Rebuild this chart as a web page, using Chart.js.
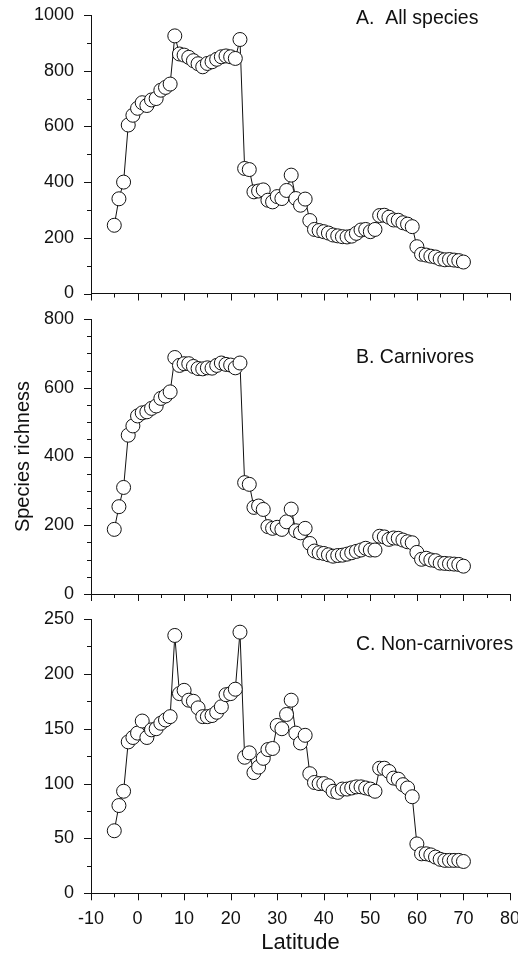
<!DOCTYPE html>
<html>
<head>
<meta charset="utf-8">
<script src="https://cdn.jsdelivr.net/npm/chart.js@4.4.0/dist/chart.umd.min.js"></script>
<style>
html,body{margin:0;padding:0;background:#fff;}
#wrap{position:relative;width:518px;height:954px;overflow:hidden;}
canvas{position:absolute;left:0;}
</style>
</head>
<body>
<div id="wrap">
<canvas id="cA" style="top:0px" width="518" height="305"></canvas>
<canvas id="cB" style="top:305px" width="518" height="300"></canvas>
<canvas id="cC" style="top:605px" width="518" height="349"></canvas>
</div>
<script>
// ---------------- DATA ----------------
const latitudes = [-5,-4,-3,-2,-1,0,1,2,3,4,5,6,7,8,9,10,11,12,13,14,15,16,17,18,19,20,21,22,23,24,25,26,27,28,29,30,31,32,33,34,35,36,37,38,39,40,41,42,43,44,45,46,47,48,49,50,51,52,53,54,55,56,57,58,59,60,61,62,63,64,65,66,67,68,69,70];

const allSpecies = [245,340,400,605,640,
  665,685,675,695,700,730,740,752,925,860,
  856,848,836,825,814,826,832,841,850,853,
  850,844,912,449,445,365,368,372,335,329,
  348,341,370,425,341,317,339,262,230,226,
  222,217,210,207,204,203,206,216,228,230,
  222,230,280,281,274,264,263,254,249,240,
  168,141,138,134,131,124,121,122,120,118,
  113];

const carnivores = [188,254,310,462,489,
  518,527,530,540,547,569,576,588,688,665,
  670,670,662,656,655,658,657,665,672,668,
  666,658,672,324,319,252,256,246,196,191,
  194,188,210,247,184,178,191,147,125,120,
  118,114,110,112,113,116,120,124,128,133,
  128,128,168,166,159,163,162,157,152,149,
  121,101,104,99,97,90,89,88,87,86,
  81];

const nonCarnivores = [57,80,93,138,142,
  146,157,142,149,150,155,158,161,235,182,
  185,176,175,169,161,161,162,165,170,181,
  182,186,238,124,128,110,115,123,131,132,
  153,150,163,176,146,137,144,109,101,100,
  100,98,93,92,95,95,96,97,97,96,
  95,93,114,114,111,105,104,99,96,88,
  45,36,36,35,33,31,30,30,30,30,
  29];

const latitudeTicks = [-10,0,10,20,30,40,50,60,70,80];
const allSpeciesTicks = [0,200,400,600,800,1000];
const carnivoreTicks = [0,200,400,600,800];
const nonCarnivoreTicks = [0,50,100,150,200,250];

const panelTitles = ['A.  All species', 'B. Carnivores', 'C. Non-carnivores'];
const xTitle = 'Latitude';
const yTitle = 'Species richness';

// ---------------- DRAWING ----------------
const FONT = "'Liberation Sans', Arial, Helvetica, sans-serif";
const INK = '#111';

// custom tick marks (major + minor) drawn through the chart's own scales
const tickMarks = {
  id: 'tickMarks',
  afterDraw(chart, args, o) {
    const {ctx} = chart;
    const xs = chart.scales.x, ys = chart.scales.y;
    ctx.save();
    ctx.strokeStyle = INK;
    ctx.lineWidth = 1;
    ctx.beginPath();
    const xt = o.xTicks;
    for (let i = 0; i < xt.length; i++) {
      let px = Math.round(xs.getPixelForValue(xt[i])) + 0.5;
      ctx.moveTo(px, ys.bottom); ctx.lineTo(px, ys.bottom + 7);
      if (i < xt.length - 1) {
        for (let k = 1; k < o.xSub; k++) {
          const v = xt[i] + (xt[i+1] - xt[i]) * k / o.xSub;
          px = Math.round(xs.getPixelForValue(v)) + 0.5;
          ctx.moveTo(px, ys.bottom); ctx.lineTo(px, ys.bottom + 4);
        }
      }
    }
    const yt = o.yTicks;
    for (let i = 0; i < yt.length; i++) {
      let py = Math.round(ys.getPixelForValue(yt[i])) + 0.5;
      ctx.moveTo(xs.left, py); ctx.lineTo(xs.left - 7, py);
      if (i < yt.length - 1) {
        for (let k = 1; k < o.ySub; k++) {
          const v = yt[i] + (yt[i+1] - yt[i]) * k / o.ySub;
          py = Math.round(ys.getPixelForValue(v)) + 0.5;
          ctx.moveTo(xs.left, py); ctx.lineTo(xs.left - 4, py);
        }
      }
    }
    ctx.stroke();
    // panel label
    ctx.fillStyle = INK;
    ctx.font = '19.5px ' + FONT;
    ctx.textBaseline = 'middle';
    ctx.textAlign = 'left';
    ctx.fillText(o.label, chart.chartArea.left + o.labelDx, chart.chartArea.top + o.labelDy);
    ctx.restore();
  }
};

function makePanel(id, values, yTicks, ySub, opts) {
  const yMax = yTicks[yTicks.length - 1];
  return new Chart(document.getElementById(id), {
    type: 'line',
    data: {
      datasets: [{
        data: latitudes.map((lat, i) => ({x: lat, y: values[i]})),
        borderColor: INK,
        borderWidth: 1,
        pointRadius: 7,
        pointHoverRadius: 7,
        pointBorderWidth: 1,
        pointBorderColor: INK,
        pointBackgroundColor: '#fff',
        tension: 0,
        fill: false,
        clip: false
      }]
    },
    options: {
      responsive: false,
      animation: false,
      devicePixelRatio: 1,
      events: [],
      layout: {padding: {top: opts.padTop, right: 8, bottom: 0, left: 0}},
      plugins: {
        legend: {display: false},
        tooltip: {enabled: false},
        tickMarks: {xTicks: latitudeTicks, xSub: 2, yTicks: yTicks, ySub: ySub,
                    label: opts.label, labelDx: 265, labelDy: opts.labelDy}
      },
      scales: {
        x: {
          type: 'linear',
          min: latitudeTicks[0],
          max: latitudeTicks[latitudeTicks.length - 1],
          afterBuildTicks: s => { s.ticks = latitudeTicks.map(v => ({value: v})); },
          afterFit: s => { s.height = opts.xHeight; s.paddingLeft = 0; s.paddingRight = 0; },
          grid: {display: false, drawTicks: false},
          border: {display: true, color: INK, width: 1},
          ticks: {
            display: opts.showX,
            padding: 15,
            color: INK,
            font: {family: FONT, size: 18},
            maxRotation: 0,
            autoSkip: false,
            callback: v => String(v)
          },
          title: {
            display: opts.showX,
            text: xTitle,
            color: INK,
            font: {family: FONT, size: 22, lineHeight: 1.0},
            padding: {top: 0, bottom: 0}
          }
        },
        y: {
          type: 'linear',
          min: 0,
          max: yMax,
          afterBuildTicks: s => { s.ticks = yTicks.map(v => ({value: v})); },
          afterFit: s => { s.width = 91; s.paddingTop = 0; s.paddingBottom = 0; },
          grid: {display: false, drawTicks: false},
          border: {display: true, color: INK, width: 1},
          ticks: {
            padding: 17,
            color: INK,
            font: {family: FONT, size: 18},
            autoSkip: false,
            callback: v => String(v)
          },
          title: {
            display: opts.showY,
            text: yTitle,
            color: INK,
            font: {family: FONT, size: 20},
            padding: {top: 11, bottom: 0}
          }
        }
      }
    },
    plugins: [tickMarks]
  });
}

makePanel('cA', allSpecies, allSpeciesTicks, 2,
  {padTop: 15, xHeight: 11.5, showX: false, showY: false, label: panelTitles[0], labelDy: 4});
makePanel('cB', carnivores, carnivoreTicks, 4,
  {padTop: 14, xHeight: 11, showX: false, showY: true, label: panelTitles[1], labelDy: 39});
makePanel('cC', nonCarnivores, nonCarnivoreTicks, 2,
  {padTop: 14, xHeight: 60.7, showX: true, showY: false, label: panelTitles[2], labelDy: 26});
</script>
</body>
</html>
